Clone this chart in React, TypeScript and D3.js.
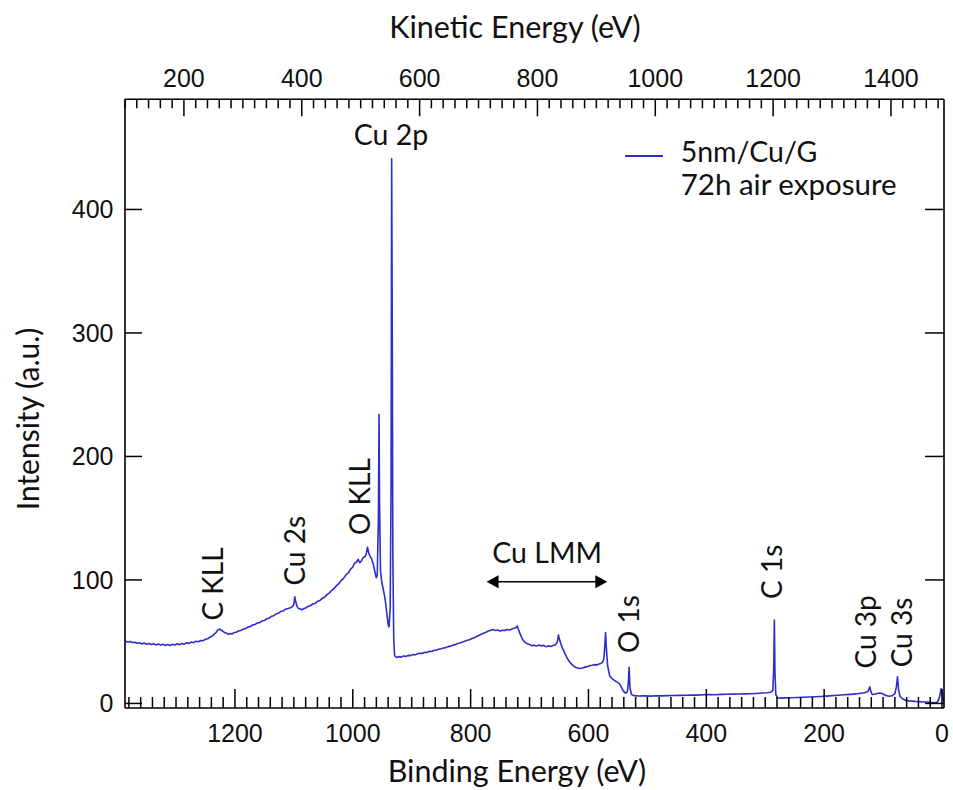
import React from "react";
import * as d3 from "d3";

// ---- data: [binding energy (eV), intensity (a.u.)] ----
const backgroundHighBE: [number, number][] = [
  [1386, 50.5], [1382, 49.8], [1378, 50.2], [1374, 49.3], [1370, 49.6], [1366, 48.7], [1362, 49.1], [1358, 48.2],
  [1354, 48.9], [1350, 48.0], [1346, 48.6], [1342, 47.7], [1338, 48.3], [1334, 47.4], [1330, 48.1], [1326, 47.2],
  [1322, 47.9], [1318, 46.9], [1314, 47.7], [1310, 46.8], [1306, 47.9], [1302, 47.3], [1298, 48.3], [1294, 47.6],
  [1290, 48.6], [1286, 48.0], [1282, 49.1], [1278, 48.5], [1274, 49.7], [1270, 49.2], [1266, 50.4], [1262, 49.9],
  [1258, 50.9], [1254, 50.8], [1250, 52.0], [1246, 52.4], [1242, 53.8], [1238, 54.6], [1235, 56.3], [1232, 57.4],
  [1229, 59.6], [1226, 60.1], [1223, 59.3], [1220, 58.4], [1217, 57.2], [1214, 56.8], [1211, 55.9], [1208, 56.6],
  [1205, 56.2], [1202, 57.3], [1198, 57.6], [1194, 58.7], [1190, 59.0], [1186, 60.2], [1182, 60.6], [1178, 61.8],
  [1174, 62.3], [1170, 63.5], [1166, 63.9], [1162, 65.2], [1158, 65.4], [1154, 66.8], [1150, 67.1], [1146, 68.5],
  [1142, 69.0], [1138, 70.6], [1134, 71.0], [1130, 72.6], [1126, 73.1], [1122, 74.6], [1118, 74.9], [1114, 76.3],
  [1110, 76.8], [1106, 77.4], [1102, 78.6], [1100, 80.5], [1098.5, 86.4], [1097, 83.0], [1095, 79.0], [1092, 76.8],
  [1089, 76.4], [1086, 75.8], [1083, 76.9], [1080, 77.3], [1076, 78.6], [1072, 79.1], [1068, 80.5], [1064, 81.0],
  [1060, 82.6], [1056, 83.3], [1052, 85.1], [1048, 86.0], [1044, 88.1], [1040, 89.3], [1036, 91.4], [1032, 92.9],
  [1028, 95.2], [1024, 96.8], [1020, 99.4], [1016, 101.1], [1012, 103.9], [1008, 105.6], [1004, 108.6], [1000, 110.5],
  [997, 113.6], [994, 114.3], [991, 116.6], [988, 114.0], [985, 115.8], [982, 118.2], [979, 119.1], [977, 121.5],
  [975, 126.5], [973, 122.0], [971, 119.5], [968, 116.8], [965, 112.4], [962, 105.4], [960, 101.8], [958.5, 104.0],
];
const cu2pRegion: [number, number][] = [
  [956.5, 150], [955.5, 234], [954.5, 160], [953, 108], [951, 98.5], [948, 92], [945, 84], [942, 72],
  [940, 64], [938.5, 62], [936.5, 78], [935, 180], [934, 441], [933, 300], [932, 120], [930.5, 52],
];
const augerRegion: [number, number][] = [
  [929, 38.6], [926, 37.2], [922, 37.9], [918, 37.5], [914, 38.4], [910, 38.1], [906, 38.9], [902, 38.7],
  [898, 39.6], [894, 39.3], [890, 40.2], [886, 40.6], [882, 40.5], [878, 41.4], [874, 41.3], [870, 42.3],
  [866, 42.1], [862, 43.0], [858, 43.2], [854, 43.9], [850, 44.3], [846, 44.9], [842, 45.2], [838, 46.0],
  [834, 46.4], [830, 47.2], [826, 47.6], [822, 48.5], [818, 48.9], [814, 49.8], [810, 50.4], [806, 51.2],
  [802, 51.6], [798, 52.6], [794, 53.1], [790, 54.2], [786, 55.0], [782, 56.0], [778, 56.9], [774, 57.6],
  [770, 58.6], [766, 59.2], [762, 59.8], [758, 59.1], [754, 59.5], [750, 58.6], [746, 59.3], [742, 59.0],
  [738, 59.8], [734, 59.4], [730, 60.3], [726, 60.8], [723, 61.5], [721, 62.7], [719, 60.0], [716, 56.3],
  [712, 52.0], [708, 49.6], [704, 48.3], [700, 47.8], [696, 46.7], [692, 47.2], [688, 46.4], [684, 47.3],
  [680, 46.6], [676, 47.0], [672, 45.9], [668, 46.6], [664, 46.1], [660, 47.0], [656, 47.6], [653, 49.5],
  [651, 55.4], [649, 51.5], [646, 47.0], [643, 43.5], [640, 40.5], [637, 37.5], [634, 35.0], [630, 32.4],
  [626, 30.6], [622, 29.3], [618, 28.6], [614, 28.3], [610, 28.7], [606, 29.4], [602, 29.8], [598, 30.6],
  [594, 30.9], [590, 31.4], [586, 31.2], [582, 32.0], [579, 32.3], [576, 33.4], [574, 36.0], [572.5, 45.0],
  [571, 57.3], [569.5, 44.0], [567.5, 30.5], [564, 22.4], [560, 20.1], [556, 18.6], [552, 17.4], [548, 16.2],
  [545, 14.0], [541, 10.2], [537, 8.3], [534, 9.2], [532.5, 16.0], [531, 29.2], [529.5, 12.5], [527, 7.2],
  [523, 6.3],
];
const lowBERegion: [number, number][] = [
  [515, 6.0], [505, 6.1], [495, 5.9], [485, 6.2], [475, 6.1], [465, 6.3], [455, 6.4], [445, 6.5], [435, 6.6],
  [425, 6.8], [415, 6.7], [405, 7.0], [395, 7.1], [385, 7.0], [375, 7.3], [365, 7.4], [355, 7.5], [345, 7.6],
  [335, 7.7], [325, 7.9], [315, 8.1], [305, 8.4], [297, 8.6], [291, 9.0], [287, 10.5], [285.5, 30.0],
  [284.5, 67.5], [283.5, 25.0], [282, 7.0], [279, 4.6], [274, 4.3], [266, 4.5], [256, 4.6], [246, 4.8],
  [236, 5.0], [226, 5.2], [216, 5.4], [206, 5.6], [196, 5.9], [186, 6.3], [176, 6.6], [166, 7.0], [156, 7.3],
  [146, 7.7], [138, 8.2], [131, 8.6], [126, 9.6], [124, 11.5], [122.5, 13.5], [121, 10.0], [118.5, 7.2],
  [115, 7.4], [110, 8.1], [105, 8.4], [100, 7.6], [95, 6.4], [90, 5.8], [85, 6.2], [80, 8.0], [77.5, 13.0],
  [75.5, 21.6], [73.5, 10.4], [71, 5.6], [67, 3.8], [62, 2.6], [56, 2.1], [50, 1.9], [44, 1.6], [38, 1.4],
  [32, 1.2], [26, 1.1], [20, 0.9], [15, 0.8], [11, 0.6], [8, 1.2], [6, 2.8], [4, 5.5], [2.5, 9.5], [1.5, 12.0],
  [0.5, 10.8], [-1, 6.0], [-2.5, 2.0], [-3.4, 1.2],
];

const xDomain = [1386.6, -3.4];
const keDomain = [100, 1490];
const yDomain = [-3.7, 489.2];
const beMajorTicks = [1200, 1000, 800, 600, 400, 200, 0];
const keMajorTicks = [200, 400, 600, 800, 1000, 1200, 1400];
const yTicks = [0, 100, 200, 300, 400];

const axisTitles = { top: "Kinetic Energy (eV)", bottom: "Binding Energy (eV)", left: "Intensity (a.u.)" };
const legendLabels = ["5nm/Cu/G", "72h air exposure"];

// annotations: [label, BE, intensity, rotated]
const peakLabels: [string, number, number, boolean][] = [
  ["C KLL", 1220.3, 96.7, true],
  ["Cu 2s", 1081.2, 123.6, true],
  ["O KLL", 970.9, 167.5, true],
  ["O 1s", 513.5, 64.3, true],
  ["C 1s", 271.7, 106.6, true],
  ["Cu 3p", 111.6, 58.0, true],
  ["Cu 3s", 50.5, 57.4, true],
  ["Cu 2p", 935.2, 452, false],
  ["Cu LMM", 670.2, 113.9, false],
];
const lmmArrow = { from: 773, to: 568, level: 98.5 };

const W = 953;
const H = 790;
const M = { left: 125, right: 944, top: 99.3, bottom: 708 };
const LINE = "#2e2ec8";
const TICK_FONT = "'Liberation Sans', Arial, sans-serif";
const TEXT_FONT = "Lato, 'Open Sans', sans-serif";

export default function App() {
  const x = d3.scaleLinear().domain(xDomain).range([M.left, M.right]);
  const xk = d3.scaleLinear().domain(keDomain).range([M.left, M.right]);
  const y = d3.scaleLinear().domain(yDomain).range([M.bottom, M.top]);

  const pts = [...backgroundHighBE, ...cu2pRegion, ...augerRegion, ...lowBERegion];
  const line = d3
    .line<[number, number]>()
    .x((d) => x(d[0]))
    .y((d) => y(d[1]));

  const beMinor = d3.range(0, 1387, 20).filter((v) => !beMajorTicks.includes(v));
  const keMinor = d3.range(100, 1491, 20).filter((v) => !keMajorTicks.includes(v));

  const ax = { stroke: "#000", strokeWidth: 1.6 };
  const tk = { stroke: "#000", strokeWidth: 1.5 };

  const ax1 = x(lmmArrow.from);
  const ax2 = x(lmmArrow.to);
  const ay = y(lmmArrow.level);

  return (
    <svg
      width={W}
      height={H}
      style={{ position: "absolute", left: 0, top: 0, background: "#fff" }}
    >
      <defs>
        <clipPath id="plot">
          <rect x={M.left} y={M.top} width={M.right - M.left} height={M.bottom - M.top} />
        </clipPath>
      </defs>
      <rect x={0} y={0} width={W} height={H} fill="#fff" />

      {/* data */}
      <path d={line(pts) || ""} fill="none" stroke={LINE} strokeWidth={1.6} strokeLinejoin="round" clipPath="url(#plot)" />

      {/* frame */}
      <line x1={M.left} x2={M.right} y1={M.top} y2={M.top} {...ax} />
      <line x1={M.left} x2={M.right} y1={M.bottom} y2={M.bottom} {...ax} />
      <line x1={M.left} x2={M.left} y1={M.top} y2={M.bottom} {...ax} />
      <line x1={M.right} x2={M.right} y1={M.top} y2={M.bottom} {...ax} />

      {/* bottom axis (binding energy) */}
      {beMinor.map((v) => (
        <line key={"bm" + v} x1={x(v)} x2={x(v)} y1={M.bottom} y2={M.bottom - 11} {...tk} />
      ))}
      {beMajorTicks.map((v) => (
        <g key={"bM" + v}>
          <line x1={x(v)} x2={x(v)} y1={M.bottom} y2={M.bottom - 19} {...tk} />
          <text x={x(v)} y={741.7} textAnchor="middle" fontFamily={TICK_FONT} fontSize={25} fill="#111">
            {v}
          </text>
        </g>
      ))}

      {/* top axis (kinetic energy) */}
      {keMinor.map((v) => (
        <line key={"km" + v} x1={xk(v)} x2={xk(v)} y1={M.top} y2={M.top + 9} {...tk} />
      ))}
      {keMajorTicks.map((v) => (
        <g key={"kM" + v}>
          <line x1={xk(v)} x2={xk(v)} y1={M.top} y2={M.top + 17} {...tk} />
          <text x={xk(v)} y={86.7} textAnchor="middle" fontFamily={TICK_FONT} fontSize={25} fill="#111">
            {v}
          </text>
        </g>
      ))}

      {/* y axes */}
      {yTicks.map((v) => (
        <g key={"y" + v}>
          <line x1={M.left} x2={M.left + 17} y1={y(v)} y2={y(v)} {...tk} />
          <line x1={M.right} x2={M.right - 19} y1={y(v)} y2={y(v)} {...tk} />
          <text x={113.5} y={y(v)} dy="0.36em" textAnchor="end" fontFamily={TICK_FONT} fontSize={25} fill="#111">
            {v}
          </text>
        </g>
      ))}

      {/* axis titles */}
      <text x={515} y={38} textAnchor="middle" fontFamily={TEXT_FONT} fontSize={30.5} fill="#111">
        {axisTitles.top}
      </text>
      <text x={517} y={782} textAnchor="middle" fontFamily={TEXT_FONT} fontSize={30.5} fill="#111">
        {axisTitles.bottom}
      </text>
      <text
        transform={`translate(39,419) rotate(-90)`}
        textAnchor="middle"
        fontFamily={TEXT_FONT}
        fontSize={30}
        fill="#111"
      >
        {axisTitles.left}
      </text>

      {/* legend */}
      <line x1={625} x2={663} y1={156} y2={156} stroke={LINE} strokeWidth={2} />
      <text x={680.7} y={161.7} fontFamily={TEXT_FONT} fontSize={28.5} fill="#111">
        {legendLabels[0]}
      </text>
      <text x={680.7} y={195} fontFamily={TEXT_FONT} fontSize={29.5} fill="#111">
        {legendLabels[1]}
      </text>

      {/* peak labels */}
      {peakLabels.map(([t, be, iv, rot]) =>
        rot ? (
          <text
            key={t}
            transform={`translate(${x(be)},${y(iv)}) rotate(-90)`}
            textAnchor="middle"
            fontFamily={TEXT_FONT}
            fontSize={28}
            fill="#111"
          >
            {t}
          </text>
        ) : (
          <text key={t} x={x(be)} y={y(iv)} textAnchor="middle" fontFamily={TEXT_FONT} fontSize={28.5} fill="#111">
            {t}
          </text>
        )
      )}

      {/* Cu LMM double arrow */}
      <line x1={ax1 + 10} x2={ax2 - 10} y1={ay} y2={ay} stroke="#000" strokeWidth={1.6} />
      <path d={`M${ax1},${ay} L${ax1 + 12},${ay - 6.5} L${ax1 + 12},${ay + 6.5} Z`} fill="#000" />
      <path d={`M${ax2},${ay} L${ax2 - 12},${ay - 6.5} L${ax2 - 12},${ay + 6.5} Z`} fill="#000" />
    </svg>
  );
}
